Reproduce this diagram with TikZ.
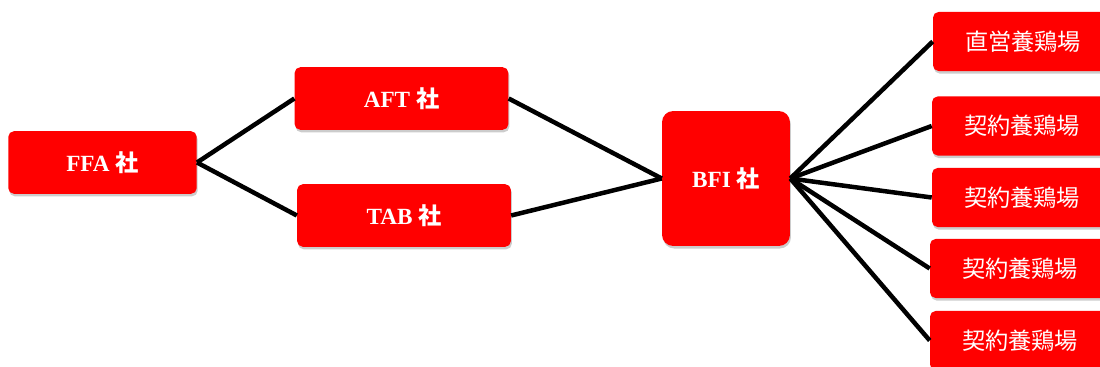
\documentclass[tikz,border=0pt]{standalone}
\usepackage{fontspec}
\setmainfont{Liberation Serif}
\newfontfamily\jp{Noto Sans CJK JP}
\usepackage{tikz}
\usetikzlibrary{shadows}
\tikzset{firm/.style={fill=red,draw=none,rounded corners=4pt,text=white,
        font=\fontsize{16.5}{18}\selectfont\bfseries,inner sep=0pt,
        drop shadow={opacity=0.4,shadow xshift=0.7pt,shadow yshift=-1.8pt}},
    farm/.style={firm,font=\fontsize{16.5}{18}\selectfont\jp,
        minimum width=128pt,minimum height=42pt},
    link/.style={draw=black,line width=3.2pt}}

\begin{document}
\begin{tikzpicture}[x=0.025cm,y=-0.025cm]
    \useasboundingbox (0,0) rectangle (1100,367);
    \node[firm,minimum width=134pt,minimum height=44.5pt] (ffa) at (102.5,162.5) {FFA {\jp 社}};
    \node[firm,minimum width=152pt,minimum height=44.5pt] (aft) at (401.5,98.5) {AFT {\jp 社}};
    \node[firm,minimum width=152pt,minimum height=44.5pt] (tab) at (404,215.5) {TAB {\jp 社}};
    \node[firm,rounded corners=8pt,minimum width=91pt,minimum height=96pt] (bfi) at (726,178.5) {BFI {\jp 社}};
    \node[farm] (direct) at (1023,41.5) {直営養鶏場};
    \node[farm] (contract1) at (1022,126) {契約養鶏場};
    \node[farm] (contract2) at (1022,197.5) {契約養鶏場};
    \node[farm] (contract3) at (1020,268.5) {契約養鶏場};
    \node[farm] (contract4) at (1020,340.5) {契約養鶏場};
    \draw[link] (ffa.east) -- (aft.west);
    \draw[link] (ffa.east) -- (tab.west);
    \draw[link] (aft.east) -- (bfi.west);
    \draw[link] (tab.east) -- (bfi.west);
    \draw[link] (bfi.east) -- (direct.west);
    \draw[link] (bfi.east) -- (contract1.west);
    \draw[link] (bfi.east) -- (contract2.west);
    \draw[link] (bfi.east) -- (contract3.west);
    \draw[link] (bfi.east) -- (contract4.west);
\end{tikzpicture}
\end{document}
